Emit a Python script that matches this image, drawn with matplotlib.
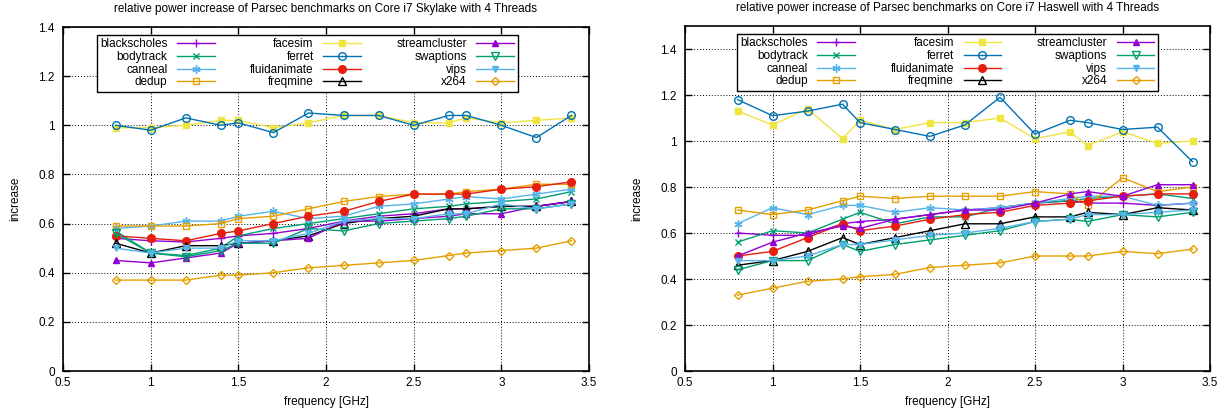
#!/usr/bin/env python3
"""Relative power increase of Parsec benchmarks (Skylake vs Haswell, 4 threads)."""

import matplotlib
matplotlib.use('Agg')
import matplotlib.pyplot as plt

plt.rcParams['font.family'] = ['Liberation Sans', 'DejaVu Sans']
plt.rcParams['font.size'] = 8.5

# frequencies [GHz]
freqs = [0.8, 1.0, 1.2, 1.4, 1.5, 1.7, 1.9, 2.1, 2.3, 2.5, 2.7, 2.8, 3.0, 3.2, 3.4]

benchmarks = ['blackscholes', 'bodytrack', 'canneal', 'dedup',
              'facesim', 'ferret', 'fluidanimate', 'freqmine',
              'streamcluster', 'swaptions', 'vips', 'x264']

# Skylake values
sky_blackscholes = [0.54, 0.53, 0.525, 0.54, 0.55, 0.56, 0.58, 0.61, 0.63, 0.64, 0.66, 0.66, 0.67, 0.67, 0.69]
sky_bodytrack = [0.57, 0.48, 0.47, 0.50, 0.55, 0.58, 0.60, 0.62, 0.64, 0.66, 0.67, 0.68, 0.69, 0.70, 0.73]
sky_canneal = [0.58, 0.59, 0.61, 0.61, 0.63, 0.65, 0.62, 0.63, 0.67, 0.68, 0.70, 0.71, 0.70, 0.72, 0.74]
sky_dedup = [0.59, 0.59, 0.59, 0.60, 0.62, 0.63, 0.66, 0.69, 0.71, 0.72, 0.72, 0.73, 0.74, 0.76, 0.76]
sky_facesim = [0.99, 0.99, 1.00, 1.02, 1.02, 0.99, 1.01, 1.04, 1.04, 1.01, 1.01, 1.03, 1.01, 1.02, 1.03]
sky_ferret = [1.00, 0.98, 1.03, 1.00, 1.01, 0.97, 1.05, 1.04, 1.04, 1.00, 1.04, 1.04, 1.00, 0.95, 1.04]
sky_fluidanimate = [0.55, 0.54, 0.53, 0.56, 0.57, 0.60, 0.63, 0.65, 0.69, 0.72, 0.72, 0.72, 0.74, 0.75, 0.77]
sky_freqmine = [0.52, 0.48, 0.51, 0.51, 0.52, 0.53, 0.55, 0.60, 0.62, 0.63, 0.66, 0.66, 0.67, 0.67, 0.69]
sky_streamcluster = [0.45, 0.44, 0.46, 0.48, 0.52, 0.53, 0.54, 0.61, 0.61, 0.62, 0.63, 0.64, 0.64, 0.67, 0.69]
sky_swaptions = [0.56, 0.48, 0.465, 0.49, 0.52, 0.52, 0.58, 0.57, 0.60, 0.61, 0.62, 0.63, 0.66, 0.66, 0.68]
sky_vips = [0.50, 0.48, 0.50, 0.50, 0.53, 0.53, 0.56, 0.61, 0.62, 0.62, 0.64, 0.64, 0.68, 0.66, 0.68]
sky_x264 = [0.37, 0.37, 0.37, 0.39, 0.39, 0.40, 0.42, 0.43, 0.44, 0.45, 0.47, 0.48, 0.49, 0.50, 0.53]

# Haswell values
has_blackscholes = [0.60, 0.59, 0.59, 0.64, 0.65, 0.66, 0.68, 0.70, 0.71, 0.73, 0.74, 0.73, 0.73, 0.72, 0.73]
has_bodytrack = [0.56, 0.61, 0.60, 0.66, 0.69, 0.64, 0.67, 0.67, 0.71, 0.73, 0.74, 0.75, 0.76, 0.77, 0.75]
has_canneal = [0.64, 0.71, 0.68, 0.72, 0.72, 0.69, 0.71, 0.70, 0.71, 0.73, 0.75, 0.76, 0.76, 0.72, 0.73]
has_dedup = [0.70, 0.68, 0.70, 0.74, 0.76, 0.75, 0.76, 0.76, 0.76, 0.78, 0.77, 0.72, 0.84, 0.78, 0.80]
has_facesim = [1.13, 1.07, 1.14, 1.01, 1.09, 1.05, 1.08, 1.08, 1.10, 1.01, 1.04, 0.98, 1.04, 0.99, 1.00]
has_ferret = [1.18, 1.11, 1.13, 1.16, 1.08, 1.05, 1.02, 1.07, 1.19, 1.03, 1.09, 1.08, 1.05, 1.06, 0.91]
has_fluidanimate = [0.50, 0.52, 0.58, 0.64, 0.61, 0.63, 0.66, 0.68, 0.69, 0.72, 0.73, 0.74, 0.76, 0.77, 0.77]
has_freqmine = [0.46, 0.48, 0.52, 0.58, 0.55, 0.58, 0.61, 0.64, 0.64, 0.67, 0.67, 0.69, 0.68, 0.71, 0.70]
has_streamcluster = [0.50, 0.56, 0.60, 0.63, 0.62, 0.66, 0.68, 0.70, 0.70, 0.73, 0.77, 0.78, 0.76, 0.81, 0.81]
has_swaptions = [0.44, 0.48, 0.48, 0.55, 0.52, 0.55, 0.57, 0.59, 0.61, 0.65, 0.66, 0.65, 0.68, 0.67, 0.69]
has_vips = [0.48, 0.48, 0.50, 0.55, 0.55, 0.57, 0.59, 0.60, 0.62, 0.65, 0.66, 0.68, 0.68, 0.69, 0.70]
has_x264 = [0.33, 0.36, 0.39, 0.40, 0.41, 0.42, 0.45, 0.46, 0.47, 0.50, 0.50, 0.50, 0.52, 0.51, 0.53]

skylake = [sky_blackscholes, sky_bodytrack, sky_canneal, sky_dedup,
           sky_facesim, sky_ferret, sky_fluidanimate, sky_freqmine,
           sky_streamcluster, sky_swaptions, sky_vips, sky_x264]
haswell = [has_blackscholes, has_bodytrack, has_canneal, has_dedup,
           has_facesim, has_ferret, has_fluidanimate, has_freqmine,
           has_streamcluster, has_swaptions, has_vips, has_x264]

# gnuplot-like styles: (color, marker, filled, size)
styles = [
    ('#9400d3', '+', True, 6),
    ('#009e73', 'x', True, 5),
    ('#56b4e9', (6, 2, 0), True, 6),
    ('#e69f00', 's', False, 5),
    ('#f0e442', 's', True, 5),
    ('#0072b2', 'o', False, 5.5),
    ('#e51e10', 'o', True, 5.5),
    ('#000000', '^', False, 5.5),
    ('#9400d3', '^', True, 5),
    ('#009e73', 'v', False, 5.5),
    ('#56b4e9', 'v', True, 5),
    ('#e69f00', 'D', False, 4.5),
]


def draw_panel(ax, data, title, ymax, legend_x):
    for name, vals, (color, marker, filled, size) in zip(benchmarks, data, styles):
        ax.plot(freqs, vals, color=color, lw=1, marker=marker, ms=size,
                mfc=color if filled else 'none', mec=color, mew=1,
                label=name)
    ax.set_xlim(0.5, 3.5)
    ax.set_ylim(0, ymax)
    ax.set_xticks([0.5, 1, 1.5, 2, 2.5, 3, 3.5])
    ax.set_xticklabels(['0.5', '1', '1.5', '2', '2.5', '3', '3.5'])
    ax.set_yticks([0, 0.2, 0.4, 0.6, 0.8, 1.0, 1.2, 1.4])
    ax.set_yticklabels(['0', '0.2', '0.4', '0.6', '0.8', '1', '1.2', '1.4'])
    ax.tick_params(direction='in', top=True, right=True, length=5, width=1)
    ax.tick_params(axis='x', pad=4.5)
    ax.tick_params(axis='y', pad=6)
    ax.grid(True, color='black', linestyle=(0, (1, 2)), lw=0.7)
    for sp in ax.spines.values():
        sp.set_linewidth(1.2)
    ax.set_title(title, fontsize=8.5, pad=11)
    ax.set_xlabel('frequency [GHz]', labelpad=5)
    ax.set_ylabel('increase', labelpad=12)
    leg = ax.legend(loc='upper center', bbox_to_anchor=(legend_x, 0.977),
                    ncol=3, markerfirst=False, fancybox=False, framealpha=1,
                    edgecolor='black', handlelength=3.2, handletextpad=0.8,
                    columnspacing=3.0, labelspacing=0.05, borderpad=0.3,
                    borderaxespad=0, fontsize=8.5)
    leg.get_frame().set_linewidth(1)


fig = plt.figure(figsize=(12.29, 4.16), dpi=100)
ax1 = fig.add_axes([63 / 1229, 45 / 416, 526 / 1229, 344 / 416])
ax2 = fig.add_axes([685 / 1229, 45 / 416, 525 / 1229, 345 / 416])

draw_panel(ax1, skylake,
           'relative power increase of Parsec benchmarks on Core i7 Skylake with 4 Threads',
           1.4, 0.464)
draw_panel(ax2, haswell,
           'relative power increase of Parsec benchmarks on Core i7 Haswell with 4 Threads',
           1.5, 0.5)

fig.savefig('out.png', dpi=100)
